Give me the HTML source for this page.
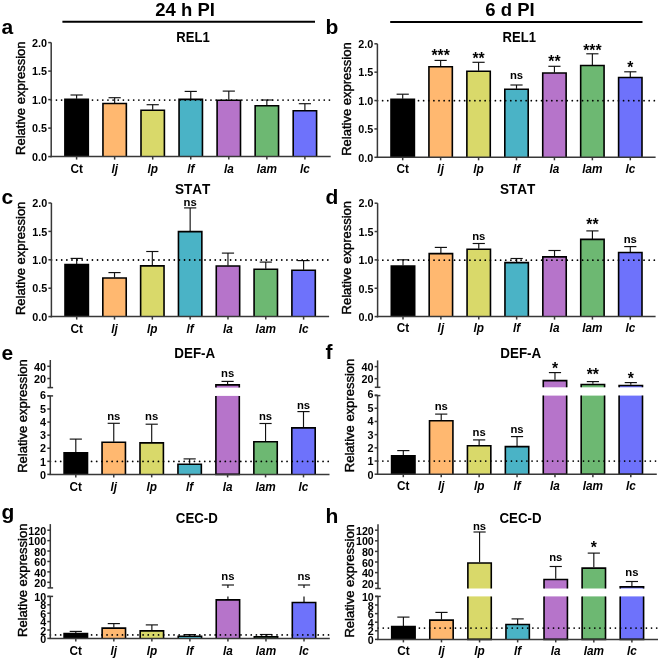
<!DOCTYPE html>
<html><head><meta charset="utf-8"><style>
html,body{margin:0;padding:0;background:#fff;}
svg{display:block;will-change:transform;}
text{font-family:"Liberation Sans", sans-serif;fill:#000;font-kerning:none;}
</style></head><body>
<svg width="660" height="659" viewBox="0 0 660 659">
<rect width="660" height="659" fill="#fff"/>
<line x1="76.60" y1="98.70" x2="76.60" y2="95.00" stroke="#111" stroke-width="1.15" />
<line x1="70.50" y1="95.00" x2="82.70" y2="95.00" stroke="#111" stroke-width="1.15" />
<rect x="64.90" y="99.20" width="23.40" height="57.40" fill="#000000"/>
<path d="M64.90,156.60L64.90,99.20L88.30,99.20L88.30,156.60" fill="none" stroke="#000" stroke-width="1.6"/>
<line x1="114.65" y1="103.00" x2="114.65" y2="97.70" stroke="#111" stroke-width="1.15" />
<line x1="108.55" y1="97.70" x2="120.75" y2="97.70" stroke="#111" stroke-width="1.15" />
<rect x="102.95" y="103.50" width="23.40" height="53.10" fill="#FFB870"/>
<path d="M102.95,156.60L102.95,103.50L126.35,103.50L126.35,156.60" fill="none" stroke="#000" stroke-width="1.6"/>
<line x1="152.70" y1="109.70" x2="152.70" y2="104.70" stroke="#111" stroke-width="1.15" />
<line x1="146.60" y1="104.70" x2="158.80" y2="104.70" stroke="#111" stroke-width="1.15" />
<rect x="141.00" y="110.20" width="23.40" height="46.40" fill="#D9D96A"/>
<path d="M141.00,156.60L141.00,110.20L164.40,110.20L164.40,156.60" fill="none" stroke="#000" stroke-width="1.6"/>
<line x1="190.75" y1="98.90" x2="190.75" y2="91.40" stroke="#111" stroke-width="1.15" />
<line x1="184.65" y1="91.40" x2="196.85" y2="91.40" stroke="#111" stroke-width="1.15" />
<rect x="179.05" y="99.40" width="23.40" height="57.20" fill="#4AB3C6"/>
<path d="M179.05,156.60L179.05,99.40L202.45,99.40L202.45,156.60" fill="none" stroke="#000" stroke-width="1.6"/>
<line x1="228.80" y1="99.80" x2="228.80" y2="91.10" stroke="#111" stroke-width="1.15" />
<line x1="222.70" y1="91.10" x2="234.90" y2="91.10" stroke="#111" stroke-width="1.15" />
<rect x="217.10" y="100.30" width="23.40" height="56.30" fill="#B674CA"/>
<path d="M217.10,156.60L217.10,100.30L240.50,100.30L240.50,156.60" fill="none" stroke="#000" stroke-width="1.6"/>
<line x1="266.85" y1="105.30" x2="266.85" y2="100.00" stroke="#111" stroke-width="1.15" />
<line x1="260.75" y1="100.00" x2="272.95" y2="100.00" stroke="#111" stroke-width="1.15" />
<rect x="255.15" y="105.80" width="23.40" height="50.80" fill="#6DB872"/>
<path d="M255.15,156.60L255.15,105.80L278.55,105.80L278.55,156.60" fill="none" stroke="#000" stroke-width="1.6"/>
<line x1="304.90" y1="110.20" x2="304.90" y2="103.70" stroke="#111" stroke-width="1.15" />
<line x1="298.80" y1="103.70" x2="311.00" y2="103.70" stroke="#111" stroke-width="1.15" />
<rect x="293.20" y="110.70" width="23.40" height="45.90" fill="#6E72FB"/>
<path d="M293.20,156.60L293.20,110.70L316.60,110.70L316.60,156.60" fill="none" stroke="#000" stroke-width="1.6"/>
<g fill="#000"><circle cx="51.30" cy="100.10" r="0.88"/><circle cx="56.45" cy="100.10" r="0.88"/><circle cx="61.60" cy="100.10" r="0.88"/><circle cx="66.75" cy="100.10" r="0.88"/><circle cx="71.90" cy="100.10" r="0.88"/><circle cx="77.05" cy="100.10" r="0.88"/><circle cx="82.20" cy="100.10" r="0.88"/><circle cx="87.35" cy="100.10" r="0.88"/><circle cx="92.50" cy="100.10" r="0.88"/><circle cx="97.65" cy="100.10" r="0.88"/><circle cx="102.80" cy="100.10" r="0.88"/><circle cx="107.95" cy="100.10" r="0.88"/><circle cx="113.10" cy="100.10" r="0.88"/><circle cx="118.25" cy="100.10" r="0.88"/><circle cx="123.40" cy="100.10" r="0.88"/><circle cx="128.55" cy="100.10" r="0.88"/><circle cx="133.70" cy="100.10" r="0.88"/><circle cx="138.85" cy="100.10" r="0.88"/><circle cx="144.00" cy="100.10" r="0.88"/><circle cx="149.15" cy="100.10" r="0.88"/><circle cx="154.30" cy="100.10" r="0.88"/><circle cx="159.45" cy="100.10" r="0.88"/><circle cx="164.60" cy="100.10" r="0.88"/><circle cx="169.75" cy="100.10" r="0.88"/><circle cx="174.90" cy="100.10" r="0.88"/><circle cx="180.05" cy="100.10" r="0.88"/><circle cx="185.20" cy="100.10" r="0.88"/><circle cx="190.35" cy="100.10" r="0.88"/><circle cx="195.50" cy="100.10" r="0.88"/><circle cx="200.66" cy="100.10" r="0.88"/><circle cx="205.81" cy="100.10" r="0.88"/><circle cx="210.96" cy="100.10" r="0.88"/><circle cx="216.11" cy="100.10" r="0.88"/><circle cx="221.26" cy="100.10" r="0.88"/><circle cx="226.41" cy="100.10" r="0.88"/><circle cx="231.56" cy="100.10" r="0.88"/><circle cx="236.71" cy="100.10" r="0.88"/><circle cx="241.86" cy="100.10" r="0.88"/><circle cx="247.01" cy="100.10" r="0.88"/><circle cx="252.16" cy="100.10" r="0.88"/><circle cx="257.31" cy="100.10" r="0.88"/><circle cx="262.46" cy="100.10" r="0.88"/><circle cx="267.61" cy="100.10" r="0.88"/><circle cx="272.76" cy="100.10" r="0.88"/><circle cx="277.91" cy="100.10" r="0.88"/><circle cx="283.06" cy="100.10" r="0.88"/><circle cx="288.21" cy="100.10" r="0.88"/><circle cx="293.36" cy="100.10" r="0.88"/><circle cx="298.51" cy="100.10" r="0.88"/><circle cx="303.66" cy="100.10" r="0.88"/><circle cx="308.81" cy="100.10" r="0.88"/><circle cx="313.96" cy="100.10" r="0.88"/><circle cx="319.11" cy="100.10" r="0.88"/><circle cx="324.26" cy="100.10" r="0.88"/><circle cx="329.41" cy="100.10" r="0.88"/></g>
<line x1="50.45" y1="156.60" x2="330.70" y2="156.60" stroke="#383838" stroke-width="1.5" />
<line x1="76.60" y1="156.60" x2="76.60" y2="159.60" stroke="#383838" stroke-width="1.5" />
<line x1="114.65" y1="156.60" x2="114.65" y2="159.60" stroke="#383838" stroke-width="1.5" />
<line x1="152.70" y1="156.60" x2="152.70" y2="159.60" stroke="#383838" stroke-width="1.5" />
<line x1="190.75" y1="156.60" x2="190.75" y2="159.60" stroke="#383838" stroke-width="1.5" />
<line x1="228.80" y1="156.60" x2="228.80" y2="159.60" stroke="#383838" stroke-width="1.5" />
<line x1="266.85" y1="156.60" x2="266.85" y2="159.60" stroke="#383838" stroke-width="1.5" />
<line x1="304.90" y1="156.60" x2="304.90" y2="159.60" stroke="#383838" stroke-width="1.5" />
<line x1="51.20" y1="42.60" x2="51.20" y2="157.35" stroke="#383838" stroke-width="1.5" />
<line x1="48.20" y1="42.60" x2="51.20" y2="42.60" stroke="#383838" stroke-width="1.5" />
<text x="47.00" y="46.89" font-size="10.8" font-weight="bold" font-style="normal" text-anchor="end" >2.0</text>
<line x1="48.20" y1="71.10" x2="51.20" y2="71.10" stroke="#383838" stroke-width="1.5" />
<text x="47.00" y="75.39" font-size="10.8" font-weight="bold" font-style="normal" text-anchor="end" >1.5</text>
<line x1="48.20" y1="99.60" x2="51.20" y2="99.60" stroke="#383838" stroke-width="1.5" />
<text x="47.00" y="103.89" font-size="10.8" font-weight="bold" font-style="normal" text-anchor="end" >1.0</text>
<line x1="48.20" y1="128.10" x2="51.20" y2="128.10" stroke="#383838" stroke-width="1.5" />
<text x="47.00" y="132.39" font-size="10.8" font-weight="bold" font-style="normal" text-anchor="end" >0.5</text>
<line x1="48.20" y1="156.60" x2="51.20" y2="156.60" stroke="#383838" stroke-width="1.5" />
<text x="47.00" y="160.89" font-size="10.8" font-weight="bold" font-style="normal" text-anchor="end" >0.0</text>
<text transform="translate(76.60,172.50) scale(1,1.09)" font-size="11.8" font-weight="bold" font-style="normal" text-anchor="middle" >Ct</text>
<text transform="translate(114.65,172.50) scale(1,1.09)" font-size="11.8" font-weight="bold" font-style="italic" text-anchor="middle" >lj</text>
<text transform="translate(152.70,172.50) scale(1,1.09)" font-size="11.8" font-weight="bold" font-style="italic" text-anchor="middle" >lp</text>
<text transform="translate(190.75,172.50) scale(1,1.09)" font-size="11.8" font-weight="bold" font-style="italic" text-anchor="middle" >lf</text>
<text transform="translate(228.80,172.50) scale(1,1.09)" font-size="11.8" font-weight="bold" font-style="italic" text-anchor="middle" >la</text>
<text transform="translate(266.85,172.50) scale(1,1.09)" font-size="11.8" font-weight="bold" font-style="italic" text-anchor="middle" >lam</text>
<text transform="translate(304.90,172.50) scale(1,1.09)" font-size="11.8" font-weight="bold" font-style="italic" text-anchor="middle" >lc</text>
<text x="1.50" y="34.00" font-size="21" font-weight="bold" font-style="normal" text-anchor="start" >a</text>
<text transform="translate(176.30,41.60) scale(1,1.08)" font-size="13.6" font-weight="bold" font-style="normal" text-anchor="start" textLength="33.4" lengthAdjust="spacingAndGlyphs">REL1</text>
<text transform="translate(24.70,154.90) rotate(-90)" font-size="13" font-weight="normal" stroke="#000" stroke-width="0.4">Relative expression</text>
<line x1="402.70" y1="98.80" x2="402.70" y2="94.20" stroke="#111" stroke-width="1.15" />
<line x1="396.60" y1="94.20" x2="408.80" y2="94.20" stroke="#111" stroke-width="1.15" />
<rect x="391.00" y="99.30" width="23.40" height="58.00" fill="#000000"/>
<path d="M391.00,157.30L391.00,99.30L414.40,99.30L414.40,157.30" fill="none" stroke="#000" stroke-width="1.6"/>
<line x1="440.63" y1="66.20" x2="440.63" y2="60.40" stroke="#111" stroke-width="1.15" />
<line x1="434.53" y1="60.40" x2="446.73" y2="60.40" stroke="#111" stroke-width="1.15" />
<rect x="428.93" y="66.70" width="23.40" height="90.60" fill="#FFB870"/>
<path d="M428.93,157.30L428.93,66.70L452.33,66.70L452.33,157.30" fill="none" stroke="#000" stroke-width="1.6"/>
<text x="440.63" y="61.46" font-size="15.7" font-weight="bold" font-style="normal" text-anchor="middle" >***</text>
<line x1="478.57" y1="70.80" x2="478.57" y2="62.30" stroke="#111" stroke-width="1.15" />
<line x1="472.47" y1="62.30" x2="484.67" y2="62.30" stroke="#111" stroke-width="1.15" />
<rect x="466.87" y="71.30" width="23.40" height="86.00" fill="#D9D96A"/>
<path d="M466.87,157.30L466.87,71.30L490.27,71.30L490.27,157.30" fill="none" stroke="#000" stroke-width="1.6"/>
<text x="478.57" y="63.66" font-size="15.7" font-weight="bold" font-style="normal" text-anchor="middle" >**</text>
<line x1="516.50" y1="88.80" x2="516.50" y2="85.00" stroke="#111" stroke-width="1.15" />
<line x1="510.40" y1="85.00" x2="522.60" y2="85.00" stroke="#111" stroke-width="1.15" />
<rect x="504.80" y="89.30" width="23.40" height="68.00" fill="#4AB3C6"/>
<path d="M504.80,157.30L504.80,89.30L528.20,89.30L528.20,157.30" fill="none" stroke="#000" stroke-width="1.6"/>
<text x="516.50" y="78.80" font-size="11.3" font-weight="bold" font-style="normal" text-anchor="middle" >ns</text>
<line x1="554.43" y1="72.50" x2="554.43" y2="66.30" stroke="#111" stroke-width="1.15" />
<line x1="548.33" y1="66.30" x2="560.53" y2="66.30" stroke="#111" stroke-width="1.15" />
<rect x="542.73" y="73.00" width="23.40" height="84.30" fill="#B674CA"/>
<path d="M542.73,157.30L542.73,73.00L566.13,73.00L566.13,157.30" fill="none" stroke="#000" stroke-width="1.6"/>
<text x="554.43" y="67.36" font-size="15.7" font-weight="bold" font-style="normal" text-anchor="middle" >**</text>
<line x1="592.37" y1="65.00" x2="592.37" y2="53.80" stroke="#111" stroke-width="1.15" />
<line x1="586.27" y1="53.80" x2="598.47" y2="53.80" stroke="#111" stroke-width="1.15" />
<rect x="580.67" y="65.50" width="23.40" height="91.80" fill="#6DB872"/>
<path d="M580.67,157.30L580.67,65.50L604.07,65.50L604.07,157.30" fill="none" stroke="#000" stroke-width="1.6"/>
<text x="592.37" y="55.86" font-size="15.7" font-weight="bold" font-style="normal" text-anchor="middle" >***</text>
<line x1="630.30" y1="77.00" x2="630.30" y2="71.80" stroke="#111" stroke-width="1.15" />
<line x1="624.20" y1="71.80" x2="636.40" y2="71.80" stroke="#111" stroke-width="1.15" />
<rect x="618.60" y="77.50" width="23.40" height="79.80" fill="#6E72FB"/>
<path d="M618.60,157.30L618.60,77.50L642.00,77.50L642.00,157.30" fill="none" stroke="#000" stroke-width="1.6"/>
<text x="630.30" y="72.86" font-size="15.7" font-weight="bold" font-style="normal" text-anchor="middle" >*</text>
<g fill="#000"><circle cx="377.50" cy="100.70" r="0.88"/><circle cx="382.63" cy="100.70" r="0.88"/><circle cx="387.75" cy="100.70" r="0.88"/><circle cx="392.88" cy="100.70" r="0.88"/><circle cx="398.00" cy="100.70" r="0.88"/><circle cx="403.13" cy="100.70" r="0.88"/><circle cx="408.26" cy="100.70" r="0.88"/><circle cx="413.38" cy="100.70" r="0.88"/><circle cx="418.51" cy="100.70" r="0.88"/><circle cx="423.64" cy="100.70" r="0.88"/><circle cx="428.76" cy="100.70" r="0.88"/><circle cx="433.89" cy="100.70" r="0.88"/><circle cx="439.01" cy="100.70" r="0.88"/><circle cx="444.14" cy="100.70" r="0.88"/><circle cx="449.27" cy="100.70" r="0.88"/><circle cx="454.39" cy="100.70" r="0.88"/><circle cx="459.52" cy="100.70" r="0.88"/><circle cx="464.65" cy="100.70" r="0.88"/><circle cx="469.77" cy="100.70" r="0.88"/><circle cx="474.90" cy="100.70" r="0.88"/><circle cx="480.02" cy="100.70" r="0.88"/><circle cx="485.15" cy="100.70" r="0.88"/><circle cx="490.28" cy="100.70" r="0.88"/><circle cx="495.40" cy="100.70" r="0.88"/><circle cx="500.53" cy="100.70" r="0.88"/><circle cx="505.66" cy="100.70" r="0.88"/><circle cx="510.78" cy="100.70" r="0.88"/><circle cx="515.91" cy="100.70" r="0.88"/><circle cx="521.03" cy="100.70" r="0.88"/><circle cx="526.16" cy="100.70" r="0.88"/><circle cx="531.29" cy="100.70" r="0.88"/><circle cx="536.41" cy="100.70" r="0.88"/><circle cx="541.54" cy="100.70" r="0.88"/><circle cx="546.67" cy="100.70" r="0.88"/><circle cx="551.79" cy="100.70" r="0.88"/><circle cx="556.92" cy="100.70" r="0.88"/><circle cx="562.04" cy="100.70" r="0.88"/><circle cx="567.17" cy="100.70" r="0.88"/><circle cx="572.30" cy="100.70" r="0.88"/><circle cx="577.42" cy="100.70" r="0.88"/><circle cx="582.55" cy="100.70" r="0.88"/><circle cx="587.68" cy="100.70" r="0.88"/><circle cx="592.80" cy="100.70" r="0.88"/><circle cx="597.93" cy="100.70" r="0.88"/><circle cx="603.05" cy="100.70" r="0.88"/><circle cx="608.18" cy="100.70" r="0.88"/><circle cx="613.31" cy="100.70" r="0.88"/><circle cx="618.43" cy="100.70" r="0.88"/><circle cx="623.56" cy="100.70" r="0.88"/><circle cx="628.68" cy="100.70" r="0.88"/><circle cx="633.81" cy="100.70" r="0.88"/><circle cx="638.94" cy="100.70" r="0.88"/><circle cx="644.06" cy="100.70" r="0.88"/><circle cx="649.19" cy="100.70" r="0.88"/><circle cx="654.32" cy="100.70" r="0.88"/></g>
<line x1="376.65" y1="157.30" x2="655.60" y2="157.30" stroke="#383838" stroke-width="1.5" />
<line x1="402.70" y1="157.30" x2="402.70" y2="160.30" stroke="#383838" stroke-width="1.5" />
<line x1="440.63" y1="157.30" x2="440.63" y2="160.30" stroke="#383838" stroke-width="1.5" />
<line x1="478.57" y1="157.30" x2="478.57" y2="160.30" stroke="#383838" stroke-width="1.5" />
<line x1="516.50" y1="157.30" x2="516.50" y2="160.30" stroke="#383838" stroke-width="1.5" />
<line x1="554.43" y1="157.30" x2="554.43" y2="160.30" stroke="#383838" stroke-width="1.5" />
<line x1="592.37" y1="157.30" x2="592.37" y2="160.30" stroke="#383838" stroke-width="1.5" />
<line x1="630.30" y1="157.30" x2="630.30" y2="160.30" stroke="#383838" stroke-width="1.5" />
<line x1="377.40" y1="43.80" x2="377.40" y2="158.05" stroke="#383838" stroke-width="1.5" />
<line x1="374.40" y1="43.80" x2="377.40" y2="43.80" stroke="#383838" stroke-width="1.5" />
<text x="373.20" y="48.09" font-size="10.8" font-weight="bold" font-style="normal" text-anchor="end" >2.0</text>
<line x1="374.40" y1="72.17" x2="377.40" y2="72.17" stroke="#383838" stroke-width="1.5" />
<text x="373.20" y="76.46" font-size="10.8" font-weight="bold" font-style="normal" text-anchor="end" >1.5</text>
<line x1="374.40" y1="100.55" x2="377.40" y2="100.55" stroke="#383838" stroke-width="1.5" />
<text x="373.20" y="104.84" font-size="10.8" font-weight="bold" font-style="normal" text-anchor="end" >1.0</text>
<line x1="374.40" y1="128.93" x2="377.40" y2="128.93" stroke="#383838" stroke-width="1.5" />
<text x="373.20" y="133.21" font-size="10.8" font-weight="bold" font-style="normal" text-anchor="end" >0.5</text>
<line x1="374.40" y1="157.30" x2="377.40" y2="157.30" stroke="#383838" stroke-width="1.5" />
<text x="373.20" y="161.59" font-size="10.8" font-weight="bold" font-style="normal" text-anchor="end" >0.0</text>
<text transform="translate(402.70,173.20) scale(1,1.09)" font-size="11.8" font-weight="bold" font-style="normal" text-anchor="middle" >Ct</text>
<text transform="translate(440.63,173.20) scale(1,1.09)" font-size="11.8" font-weight="bold" font-style="italic" text-anchor="middle" >lj</text>
<text transform="translate(478.57,173.20) scale(1,1.09)" font-size="11.8" font-weight="bold" font-style="italic" text-anchor="middle" >lp</text>
<text transform="translate(516.50,173.20) scale(1,1.09)" font-size="11.8" font-weight="bold" font-style="italic" text-anchor="middle" >lf</text>
<text transform="translate(554.43,173.20) scale(1,1.09)" font-size="11.8" font-weight="bold" font-style="italic" text-anchor="middle" >la</text>
<text transform="translate(592.37,173.20) scale(1,1.09)" font-size="11.8" font-weight="bold" font-style="italic" text-anchor="middle" >lam</text>
<text transform="translate(630.30,173.20) scale(1,1.09)" font-size="11.8" font-weight="bold" font-style="italic" text-anchor="middle" >lc</text>
<text x="325.50" y="34.40" font-size="21" font-weight="bold" font-style="normal" text-anchor="start" >b</text>
<text transform="translate(502.60,41.60) scale(1,1.08)" font-size="13.6" font-weight="bold" font-style="normal" text-anchor="start" textLength="33.4" lengthAdjust="spacingAndGlyphs">REL1</text>
<text transform="translate(351.10,155.80) rotate(-90)" font-size="13" font-weight="normal" stroke="#000" stroke-width="0.4">Relative expression</text>
<line x1="76.70" y1="264.10" x2="76.70" y2="258.40" stroke="#111" stroke-width="1.15" />
<line x1="70.60" y1="258.40" x2="82.80" y2="258.40" stroke="#111" stroke-width="1.15" />
<rect x="65.00" y="264.60" width="23.40" height="52.00" fill="#000000"/>
<path d="M65.00,316.60L65.00,264.60L88.40,264.60L88.40,316.60" fill="none" stroke="#000" stroke-width="1.6"/>
<line x1="114.52" y1="277.50" x2="114.52" y2="272.60" stroke="#111" stroke-width="1.15" />
<line x1="108.42" y1="272.60" x2="120.62" y2="272.60" stroke="#111" stroke-width="1.15" />
<rect x="102.82" y="278.00" width="23.40" height="38.60" fill="#FFB870"/>
<path d="M102.82,316.60L102.82,278.00L126.22,278.00L126.22,316.60" fill="none" stroke="#000" stroke-width="1.6"/>
<line x1="152.33" y1="265.40" x2="152.33" y2="251.50" stroke="#111" stroke-width="1.15" />
<line x1="146.23" y1="251.50" x2="158.43" y2="251.50" stroke="#111" stroke-width="1.15" />
<rect x="140.63" y="265.90" width="23.40" height="50.70" fill="#D9D96A"/>
<path d="M140.63,316.60L140.63,265.90L164.03,265.90L164.03,316.60" fill="none" stroke="#000" stroke-width="1.6"/>
<line x1="190.15" y1="231.10" x2="190.15" y2="207.90" stroke="#111" stroke-width="1.15" />
<line x1="184.05" y1="207.90" x2="196.25" y2="207.90" stroke="#111" stroke-width="1.15" />
<rect x="178.45" y="231.60" width="23.40" height="85.00" fill="#4AB3C6"/>
<path d="M178.45,316.60L178.45,231.60L201.85,231.60L201.85,316.60" fill="none" stroke="#000" stroke-width="1.6"/>
<text x="190.15" y="206.10" font-size="11.3" font-weight="bold" font-style="normal" text-anchor="middle" >ns</text>
<line x1="227.97" y1="265.50" x2="227.97" y2="253.10" stroke="#111" stroke-width="1.15" />
<line x1="221.87" y1="253.10" x2="234.07" y2="253.10" stroke="#111" stroke-width="1.15" />
<rect x="216.27" y="266.00" width="23.40" height="50.60" fill="#B674CA"/>
<path d="M216.27,316.60L216.27,266.00L239.67,266.00L239.67,316.60" fill="none" stroke="#000" stroke-width="1.6"/>
<line x1="265.78" y1="268.80" x2="265.78" y2="262.10" stroke="#111" stroke-width="1.15" />
<line x1="259.68" y1="262.10" x2="271.88" y2="262.10" stroke="#111" stroke-width="1.15" />
<rect x="254.08" y="269.30" width="23.40" height="47.30" fill="#6DB872"/>
<path d="M254.08,316.60L254.08,269.30L277.48,269.30L277.48,316.60" fill="none" stroke="#000" stroke-width="1.6"/>
<line x1="303.60" y1="269.80" x2="303.60" y2="260.60" stroke="#111" stroke-width="1.15" />
<line x1="297.50" y1="260.60" x2="309.70" y2="260.60" stroke="#111" stroke-width="1.15" />
<rect x="291.90" y="270.30" width="23.40" height="46.30" fill="#6E72FB"/>
<path d="M291.90,316.60L291.90,270.30L315.30,270.30L315.30,316.60" fill="none" stroke="#000" stroke-width="1.6"/>
<g fill="#000"><circle cx="51.50" cy="260.00" r="0.88"/><circle cx="56.62" cy="260.00" r="0.88"/><circle cx="61.73" cy="260.00" r="0.88"/><circle cx="66.85" cy="260.00" r="0.88"/><circle cx="71.97" cy="260.00" r="0.88"/><circle cx="77.09" cy="260.00" r="0.88"/><circle cx="82.20" cy="260.00" r="0.88"/><circle cx="87.32" cy="260.00" r="0.88"/><circle cx="92.44" cy="260.00" r="0.88"/><circle cx="97.55" cy="260.00" r="0.88"/><circle cx="102.67" cy="260.00" r="0.88"/><circle cx="107.79" cy="260.00" r="0.88"/><circle cx="112.90" cy="260.00" r="0.88"/><circle cx="118.02" cy="260.00" r="0.88"/><circle cx="123.14" cy="260.00" r="0.88"/><circle cx="128.26" cy="260.00" r="0.88"/><circle cx="133.37" cy="260.00" r="0.88"/><circle cx="138.49" cy="260.00" r="0.88"/><circle cx="143.61" cy="260.00" r="0.88"/><circle cx="148.72" cy="260.00" r="0.88"/><circle cx="153.84" cy="260.00" r="0.88"/><circle cx="158.96" cy="260.00" r="0.88"/><circle cx="164.07" cy="260.00" r="0.88"/><circle cx="169.19" cy="260.00" r="0.88"/><circle cx="174.31" cy="260.00" r="0.88"/><circle cx="179.43" cy="260.00" r="0.88"/><circle cx="184.54" cy="260.00" r="0.88"/><circle cx="189.66" cy="260.00" r="0.88"/><circle cx="194.78" cy="260.00" r="0.88"/><circle cx="199.89" cy="260.00" r="0.88"/><circle cx="205.01" cy="260.00" r="0.88"/><circle cx="210.13" cy="260.00" r="0.88"/><circle cx="215.24" cy="260.00" r="0.88"/><circle cx="220.36" cy="260.00" r="0.88"/><circle cx="225.48" cy="260.00" r="0.88"/><circle cx="230.60" cy="260.00" r="0.88"/><circle cx="235.71" cy="260.00" r="0.88"/><circle cx="240.83" cy="260.00" r="0.88"/><circle cx="245.95" cy="260.00" r="0.88"/><circle cx="251.06" cy="260.00" r="0.88"/><circle cx="256.18" cy="260.00" r="0.88"/><circle cx="261.30" cy="260.00" r="0.88"/><circle cx="266.41" cy="260.00" r="0.88"/><circle cx="271.53" cy="260.00" r="0.88"/><circle cx="276.65" cy="260.00" r="0.88"/><circle cx="281.77" cy="260.00" r="0.88"/><circle cx="286.88" cy="260.00" r="0.88"/><circle cx="292.00" cy="260.00" r="0.88"/><circle cx="297.12" cy="260.00" r="0.88"/><circle cx="302.23" cy="260.00" r="0.88"/><circle cx="307.35" cy="260.00" r="0.88"/><circle cx="312.47" cy="260.00" r="0.88"/><circle cx="317.58" cy="260.00" r="0.88"/><circle cx="322.70" cy="260.00" r="0.88"/><circle cx="327.82" cy="260.00" r="0.88"/></g>
<line x1="50.65" y1="316.60" x2="329.10" y2="316.60" stroke="#383838" stroke-width="1.5" />
<line x1="76.70" y1="316.60" x2="76.70" y2="319.60" stroke="#383838" stroke-width="1.5" />
<line x1="114.52" y1="316.60" x2="114.52" y2="319.60" stroke="#383838" stroke-width="1.5" />
<line x1="152.33" y1="316.60" x2="152.33" y2="319.60" stroke="#383838" stroke-width="1.5" />
<line x1="190.15" y1="316.60" x2="190.15" y2="319.60" stroke="#383838" stroke-width="1.5" />
<line x1="227.97" y1="316.60" x2="227.97" y2="319.60" stroke="#383838" stroke-width="1.5" />
<line x1="265.78" y1="316.60" x2="265.78" y2="319.60" stroke="#383838" stroke-width="1.5" />
<line x1="303.60" y1="316.60" x2="303.60" y2="319.60" stroke="#383838" stroke-width="1.5" />
<line x1="51.40" y1="203.00" x2="51.40" y2="317.35" stroke="#383838" stroke-width="1.5" />
<line x1="48.40" y1="203.00" x2="51.40" y2="203.00" stroke="#383838" stroke-width="1.5" />
<text x="47.20" y="207.29" font-size="10.8" font-weight="bold" font-style="normal" text-anchor="end" >2.0</text>
<line x1="48.40" y1="231.40" x2="51.40" y2="231.40" stroke="#383838" stroke-width="1.5" />
<text x="47.20" y="235.69" font-size="10.8" font-weight="bold" font-style="normal" text-anchor="end" >1.5</text>
<line x1="48.40" y1="259.80" x2="51.40" y2="259.80" stroke="#383838" stroke-width="1.5" />
<text x="47.20" y="264.09" font-size="10.8" font-weight="bold" font-style="normal" text-anchor="end" >1.0</text>
<line x1="48.40" y1="288.20" x2="51.40" y2="288.20" stroke="#383838" stroke-width="1.5" />
<text x="47.20" y="292.49" font-size="10.8" font-weight="bold" font-style="normal" text-anchor="end" >0.5</text>
<line x1="48.40" y1="316.60" x2="51.40" y2="316.60" stroke="#383838" stroke-width="1.5" />
<text x="47.20" y="320.89" font-size="10.8" font-weight="bold" font-style="normal" text-anchor="end" >0.0</text>
<text transform="translate(76.70,332.50) scale(1,1.09)" font-size="11.8" font-weight="bold" font-style="normal" text-anchor="middle" >Ct</text>
<text transform="translate(114.52,332.50) scale(1,1.09)" font-size="11.8" font-weight="bold" font-style="italic" text-anchor="middle" >lj</text>
<text transform="translate(152.33,332.50) scale(1,1.09)" font-size="11.8" font-weight="bold" font-style="italic" text-anchor="middle" >lp</text>
<text transform="translate(190.15,332.50) scale(1,1.09)" font-size="11.8" font-weight="bold" font-style="italic" text-anchor="middle" >lf</text>
<text transform="translate(227.97,332.50) scale(1,1.09)" font-size="11.8" font-weight="bold" font-style="italic" text-anchor="middle" >la</text>
<text transform="translate(265.78,332.50) scale(1,1.09)" font-size="11.8" font-weight="bold" font-style="italic" text-anchor="middle" >lam</text>
<text transform="translate(303.60,332.50) scale(1,1.09)" font-size="11.8" font-weight="bold" font-style="italic" text-anchor="middle" >lc</text>
<text x="1.50" y="204.00" font-size="21" font-weight="bold" font-style="normal" text-anchor="start" >c</text>
<text transform="translate(175.00,193.90) scale(1,1.08)" font-size="13.6" font-weight="bold" font-style="normal" text-anchor="start" textLength="35.4" lengthAdjust="spacingAndGlyphs">STAT</text>
<text transform="translate(24.70,315.10) rotate(-90)" font-size="13" font-weight="normal" stroke="#000" stroke-width="0.4">Relative expression</text>
<line x1="403.00" y1="265.50" x2="403.00" y2="259.80" stroke="#111" stroke-width="1.15" />
<line x1="396.90" y1="259.80" x2="409.10" y2="259.80" stroke="#111" stroke-width="1.15" />
<rect x="391.30" y="266.00" width="23.40" height="50.60" fill="#000000"/>
<path d="M391.30,316.60L391.30,266.00L414.70,266.00L414.70,316.60" fill="none" stroke="#000" stroke-width="1.6"/>
<line x1="440.88" y1="253.10" x2="440.88" y2="247.40" stroke="#111" stroke-width="1.15" />
<line x1="434.78" y1="247.40" x2="446.98" y2="247.40" stroke="#111" stroke-width="1.15" />
<rect x="429.18" y="253.60" width="23.40" height="63.00" fill="#FFB870"/>
<path d="M429.18,316.60L429.18,253.60L452.58,253.60L452.58,316.60" fill="none" stroke="#000" stroke-width="1.6"/>
<line x1="478.77" y1="248.70" x2="478.77" y2="243.50" stroke="#111" stroke-width="1.15" />
<line x1="472.67" y1="243.50" x2="484.87" y2="243.50" stroke="#111" stroke-width="1.15" />
<rect x="467.07" y="249.20" width="23.40" height="67.40" fill="#D9D96A"/>
<path d="M467.07,316.60L467.07,249.20L490.47,249.20L490.47,316.60" fill="none" stroke="#000" stroke-width="1.6"/>
<text x="478.77" y="240.20" font-size="11.3" font-weight="bold" font-style="normal" text-anchor="middle" >ns</text>
<line x1="516.65" y1="262.10" x2="516.65" y2="258.50" stroke="#111" stroke-width="1.15" />
<line x1="510.55" y1="258.50" x2="522.75" y2="258.50" stroke="#111" stroke-width="1.15" />
<rect x="504.95" y="262.60" width="23.40" height="54.00" fill="#4AB3C6"/>
<path d="M504.95,316.60L504.95,262.60L528.35,262.60L528.35,316.60" fill="none" stroke="#000" stroke-width="1.6"/>
<line x1="554.53" y1="256.40" x2="554.53" y2="250.50" stroke="#111" stroke-width="1.15" />
<line x1="548.43" y1="250.50" x2="560.63" y2="250.50" stroke="#111" stroke-width="1.15" />
<rect x="542.83" y="256.90" width="23.40" height="59.70" fill="#B674CA"/>
<path d="M542.83,316.60L542.83,256.90L566.23,256.90L566.23,316.60" fill="none" stroke="#000" stroke-width="1.6"/>
<line x1="592.42" y1="238.90" x2="592.42" y2="230.90" stroke="#111" stroke-width="1.15" />
<line x1="586.32" y1="230.90" x2="598.52" y2="230.90" stroke="#111" stroke-width="1.15" />
<rect x="580.72" y="239.40" width="23.40" height="77.20" fill="#6DB872"/>
<path d="M580.72,316.60L580.72,239.40L604.12,239.40L604.12,316.60" fill="none" stroke="#000" stroke-width="1.6"/>
<text x="592.42" y="230.06" font-size="15.7" font-weight="bold" font-style="normal" text-anchor="middle" >**</text>
<line x1="630.30" y1="252.00" x2="630.30" y2="246.60" stroke="#111" stroke-width="1.15" />
<line x1="624.20" y1="246.60" x2="636.40" y2="246.60" stroke="#111" stroke-width="1.15" />
<rect x="618.60" y="252.50" width="23.40" height="64.10" fill="#6E72FB"/>
<path d="M618.60,316.60L618.60,252.50L642.00,252.50L642.00,316.60" fill="none" stroke="#000" stroke-width="1.6"/>
<text x="630.30" y="243.00" font-size="11.3" font-weight="bold" font-style="normal" text-anchor="middle" >ns</text>
<g fill="#000"><circle cx="377.70" cy="260.20" r="0.88"/><circle cx="382.82" cy="260.20" r="0.88"/><circle cx="387.95" cy="260.20" r="0.88"/><circle cx="393.07" cy="260.20" r="0.88"/><circle cx="398.19" cy="260.20" r="0.88"/><circle cx="403.31" cy="260.20" r="0.88"/><circle cx="408.44" cy="260.20" r="0.88"/><circle cx="413.56" cy="260.20" r="0.88"/><circle cx="418.68" cy="260.20" r="0.88"/><circle cx="423.80" cy="260.20" r="0.88"/><circle cx="428.93" cy="260.20" r="0.88"/><circle cx="434.05" cy="260.20" r="0.88"/><circle cx="439.17" cy="260.20" r="0.88"/><circle cx="444.29" cy="260.20" r="0.88"/><circle cx="449.42" cy="260.20" r="0.88"/><circle cx="454.54" cy="260.20" r="0.88"/><circle cx="459.66" cy="260.20" r="0.88"/><circle cx="464.78" cy="260.20" r="0.88"/><circle cx="469.91" cy="260.20" r="0.88"/><circle cx="475.03" cy="260.20" r="0.88"/><circle cx="480.15" cy="260.20" r="0.88"/><circle cx="485.27" cy="260.20" r="0.88"/><circle cx="490.40" cy="260.20" r="0.88"/><circle cx="495.52" cy="260.20" r="0.88"/><circle cx="500.64" cy="260.20" r="0.88"/><circle cx="505.76" cy="260.20" r="0.88"/><circle cx="510.89" cy="260.20" r="0.88"/><circle cx="516.01" cy="260.20" r="0.88"/><circle cx="521.13" cy="260.20" r="0.88"/><circle cx="526.25" cy="260.20" r="0.88"/><circle cx="531.38" cy="260.20" r="0.88"/><circle cx="536.50" cy="260.20" r="0.88"/><circle cx="541.62" cy="260.20" r="0.88"/><circle cx="546.74" cy="260.20" r="0.88"/><circle cx="551.87" cy="260.20" r="0.88"/><circle cx="556.99" cy="260.20" r="0.88"/><circle cx="562.11" cy="260.20" r="0.88"/><circle cx="567.23" cy="260.20" r="0.88"/><circle cx="572.36" cy="260.20" r="0.88"/><circle cx="577.48" cy="260.20" r="0.88"/><circle cx="582.60" cy="260.20" r="0.88"/><circle cx="587.72" cy="260.20" r="0.88"/><circle cx="592.85" cy="260.20" r="0.88"/><circle cx="597.97" cy="260.20" r="0.88"/><circle cx="603.09" cy="260.20" r="0.88"/><circle cx="608.21" cy="260.20" r="0.88"/><circle cx="613.34" cy="260.20" r="0.88"/><circle cx="618.46" cy="260.20" r="0.88"/><circle cx="623.58" cy="260.20" r="0.88"/><circle cx="628.70" cy="260.20" r="0.88"/><circle cx="633.83" cy="260.20" r="0.88"/><circle cx="638.95" cy="260.20" r="0.88"/><circle cx="644.07" cy="260.20" r="0.88"/><circle cx="649.19" cy="260.20" r="0.88"/><circle cx="654.32" cy="260.20" r="0.88"/></g>
<line x1="376.85" y1="316.60" x2="655.60" y2="316.60" stroke="#383838" stroke-width="1.5" />
<line x1="403.00" y1="316.60" x2="403.00" y2="319.60" stroke="#383838" stroke-width="1.5" />
<line x1="440.88" y1="316.60" x2="440.88" y2="319.60" stroke="#383838" stroke-width="1.5" />
<line x1="478.77" y1="316.60" x2="478.77" y2="319.60" stroke="#383838" stroke-width="1.5" />
<line x1="516.65" y1="316.60" x2="516.65" y2="319.60" stroke="#383838" stroke-width="1.5" />
<line x1="554.53" y1="316.60" x2="554.53" y2="319.60" stroke="#383838" stroke-width="1.5" />
<line x1="592.42" y1="316.60" x2="592.42" y2="319.60" stroke="#383838" stroke-width="1.5" />
<line x1="630.30" y1="316.60" x2="630.30" y2="319.60" stroke="#383838" stroke-width="1.5" />
<line x1="377.60" y1="203.20" x2="377.60" y2="317.35" stroke="#383838" stroke-width="1.5" />
<line x1="374.60" y1="203.20" x2="377.60" y2="203.20" stroke="#383838" stroke-width="1.5" />
<text x="373.40" y="207.49" font-size="10.8" font-weight="bold" font-style="normal" text-anchor="end" >2.0</text>
<line x1="374.60" y1="231.55" x2="377.60" y2="231.55" stroke="#383838" stroke-width="1.5" />
<text x="373.40" y="235.84" font-size="10.8" font-weight="bold" font-style="normal" text-anchor="end" >1.5</text>
<line x1="374.60" y1="259.90" x2="377.60" y2="259.90" stroke="#383838" stroke-width="1.5" />
<text x="373.40" y="264.19" font-size="10.8" font-weight="bold" font-style="normal" text-anchor="end" >1.0</text>
<line x1="374.60" y1="288.25" x2="377.60" y2="288.25" stroke="#383838" stroke-width="1.5" />
<text x="373.40" y="292.54" font-size="10.8" font-weight="bold" font-style="normal" text-anchor="end" >0.5</text>
<line x1="374.60" y1="316.60" x2="377.60" y2="316.60" stroke="#383838" stroke-width="1.5" />
<text x="373.40" y="320.89" font-size="10.8" font-weight="bold" font-style="normal" text-anchor="end" >0.0</text>
<text transform="translate(403.00,331.90) scale(1,1.09)" font-size="11.8" font-weight="bold" font-style="normal" text-anchor="middle" >Ct</text>
<text transform="translate(440.88,331.90) scale(1,1.09)" font-size="11.8" font-weight="bold" font-style="italic" text-anchor="middle" >lj</text>
<text transform="translate(478.77,331.90) scale(1,1.09)" font-size="11.8" font-weight="bold" font-style="italic" text-anchor="middle" >lp</text>
<text transform="translate(516.65,331.90) scale(1,1.09)" font-size="11.8" font-weight="bold" font-style="italic" text-anchor="middle" >lf</text>
<text transform="translate(554.53,331.90) scale(1,1.09)" font-size="11.8" font-weight="bold" font-style="italic" text-anchor="middle" >la</text>
<text transform="translate(592.42,331.90) scale(1,1.09)" font-size="11.8" font-weight="bold" font-style="italic" text-anchor="middle" >lam</text>
<text transform="translate(630.30,331.90) scale(1,1.09)" font-size="11.8" font-weight="bold" font-style="italic" text-anchor="middle" >lc</text>
<text x="325.50" y="203.90" font-size="21" font-weight="bold" font-style="normal" text-anchor="start" >d</text>
<text transform="translate(500.00,193.90) scale(1,1.08)" font-size="13.6" font-weight="bold" font-style="normal" text-anchor="start" textLength="35.4" lengthAdjust="spacingAndGlyphs">STAT</text>
<text transform="translate(351.10,314.40) rotate(-90)" font-size="13" font-weight="normal" stroke="#000" stroke-width="0.4">Relative expression</text>
<line x1="75.80" y1="452.20" x2="75.80" y2="439.10" stroke="#111" stroke-width="1.15" />
<line x1="69.70" y1="439.10" x2="81.90" y2="439.10" stroke="#111" stroke-width="1.15" />
<rect x="64.10" y="452.70" width="23.40" height="21.70" fill="#000000"/>
<path d="M64.10,474.40L64.10,452.70L87.50,452.70L87.50,474.40" fill="none" stroke="#000" stroke-width="1.6"/>
<line x1="113.75" y1="441.80" x2="113.75" y2="423.30" stroke="#111" stroke-width="1.15" />
<line x1="107.65" y1="423.30" x2="119.85" y2="423.30" stroke="#111" stroke-width="1.15" />
<rect x="102.05" y="442.30" width="23.40" height="32.10" fill="#FFB870"/>
<path d="M102.05,474.40L102.05,442.30L125.45,442.30L125.45,474.40" fill="none" stroke="#000" stroke-width="1.6"/>
<text x="113.75" y="420.00" font-size="11.3" font-weight="bold" font-style="normal" text-anchor="middle" >ns</text>
<line x1="151.70" y1="442.40" x2="151.70" y2="424.20" stroke="#111" stroke-width="1.15" />
<line x1="145.60" y1="424.20" x2="157.80" y2="424.20" stroke="#111" stroke-width="1.15" />
<rect x="140.00" y="442.90" width="23.40" height="31.50" fill="#D9D96A"/>
<path d="M140.00,474.40L140.00,442.90L163.40,442.90L163.40,474.40" fill="none" stroke="#000" stroke-width="1.6"/>
<text x="151.70" y="419.60" font-size="11.3" font-weight="bold" font-style="normal" text-anchor="middle" >ns</text>
<line x1="189.65" y1="463.80" x2="189.65" y2="458.90" stroke="#111" stroke-width="1.15" />
<line x1="183.55" y1="458.90" x2="195.75" y2="458.90" stroke="#111" stroke-width="1.15" />
<rect x="177.95" y="464.30" width="23.40" height="10.10" fill="#4AB3C6"/>
<path d="M177.95,474.40L177.95,464.30L201.35,464.30L201.35,474.40" fill="none" stroke="#000" stroke-width="1.6"/>
<line x1="227.60" y1="384.10" x2="227.60" y2="381.40" stroke="#111" stroke-width="1.15" />
<line x1="221.50" y1="381.40" x2="233.70" y2="381.40" stroke="#111" stroke-width="1.15" />
<rect x="215.90" y="384.90" width="23.40" height="2.70" fill="#B674CA"/>
<path d="M215.90,387.60L215.90,384.90L239.30,384.90L239.30,387.60" fill="none" stroke="#000" stroke-width="1.6" stroke-linejoin="miter" stroke-linecap="butt"/>
<rect x="215.90" y="395.90" width="23.40" height="78.50" fill="#B674CA"/>
<path d="M215.90,395.90L215.90,474.40L239.30,474.40L239.30,395.90" fill="none" stroke="#000" stroke-width="1.6" stroke-linecap="butt"/>
<text x="227.60" y="376.80" font-size="11.3" font-weight="bold" font-style="normal" text-anchor="middle" >ns</text>
<line x1="265.55" y1="441.20" x2="265.55" y2="423.50" stroke="#111" stroke-width="1.15" />
<line x1="259.45" y1="423.50" x2="271.65" y2="423.50" stroke="#111" stroke-width="1.15" />
<rect x="253.85" y="441.70" width="23.40" height="32.70" fill="#6DB872"/>
<path d="M253.85,474.40L253.85,441.70L277.25,441.70L277.25,474.40" fill="none" stroke="#000" stroke-width="1.6"/>
<text x="265.55" y="420.10" font-size="11.3" font-weight="bold" font-style="normal" text-anchor="middle" >ns</text>
<line x1="303.50" y1="427.40" x2="303.50" y2="411.60" stroke="#111" stroke-width="1.15" />
<line x1="297.40" y1="411.60" x2="309.60" y2="411.60" stroke="#111" stroke-width="1.15" />
<rect x="291.80" y="427.90" width="23.40" height="46.50" fill="#6E72FB"/>
<path d="M291.80,474.40L291.80,427.90L315.20,427.90L315.20,474.40" fill="none" stroke="#000" stroke-width="1.6"/>
<text x="303.50" y="409.00" font-size="11.3" font-weight="bold" font-style="normal" text-anchor="middle" >ns</text>
<g fill="#000"><circle cx="50.40" cy="461.40" r="0.88"/><circle cx="55.54" cy="461.40" r="0.88"/><circle cx="60.69" cy="461.40" r="0.88"/><circle cx="65.83" cy="461.40" r="0.88"/><circle cx="70.98" cy="461.40" r="0.88"/><circle cx="76.12" cy="461.40" r="0.88"/><circle cx="81.27" cy="461.40" r="0.88"/><circle cx="86.41" cy="461.40" r="0.88"/><circle cx="91.56" cy="461.40" r="0.88"/><circle cx="96.70" cy="461.40" r="0.88"/><circle cx="101.85" cy="461.40" r="0.88"/><circle cx="106.99" cy="461.40" r="0.88"/><circle cx="112.14" cy="461.40" r="0.88"/><circle cx="117.28" cy="461.40" r="0.88"/><circle cx="122.43" cy="461.40" r="0.88"/><circle cx="127.57" cy="461.40" r="0.88"/><circle cx="132.71" cy="461.40" r="0.88"/><circle cx="137.86" cy="461.40" r="0.88"/><circle cx="143.00" cy="461.40" r="0.88"/><circle cx="148.15" cy="461.40" r="0.88"/><circle cx="153.29" cy="461.40" r="0.88"/><circle cx="158.44" cy="461.40" r="0.88"/><circle cx="163.58" cy="461.40" r="0.88"/><circle cx="168.73" cy="461.40" r="0.88"/><circle cx="173.87" cy="461.40" r="0.88"/><circle cx="179.02" cy="461.40" r="0.88"/><circle cx="184.16" cy="461.40" r="0.88"/><circle cx="189.31" cy="461.40" r="0.88"/><circle cx="194.45" cy="461.40" r="0.88"/><circle cx="199.59" cy="461.40" r="0.88"/><circle cx="204.74" cy="461.40" r="0.88"/><circle cx="209.88" cy="461.40" r="0.88"/><circle cx="215.03" cy="461.40" r="0.88"/><circle cx="220.17" cy="461.40" r="0.88"/><circle cx="225.32" cy="461.40" r="0.88"/><circle cx="230.46" cy="461.40" r="0.88"/><circle cx="235.61" cy="461.40" r="0.88"/><circle cx="240.75" cy="461.40" r="0.88"/><circle cx="245.90" cy="461.40" r="0.88"/><circle cx="251.04" cy="461.40" r="0.88"/><circle cx="256.19" cy="461.40" r="0.88"/><circle cx="261.33" cy="461.40" r="0.88"/><circle cx="266.48" cy="461.40" r="0.88"/><circle cx="271.62" cy="461.40" r="0.88"/><circle cx="276.76" cy="461.40" r="0.88"/><circle cx="281.91" cy="461.40" r="0.88"/><circle cx="287.05" cy="461.40" r="0.88"/><circle cx="292.20" cy="461.40" r="0.88"/><circle cx="297.34" cy="461.40" r="0.88"/><circle cx="302.49" cy="461.40" r="0.88"/><circle cx="307.63" cy="461.40" r="0.88"/><circle cx="312.78" cy="461.40" r="0.88"/><circle cx="317.92" cy="461.40" r="0.88"/><circle cx="323.07" cy="461.40" r="0.88"/><circle cx="328.21" cy="461.40" r="0.88"/></g>
<line x1="49.55" y1="474.40" x2="329.50" y2="474.40" stroke="#383838" stroke-width="1.5" />
<line x1="75.80" y1="474.40" x2="75.80" y2="477.40" stroke="#383838" stroke-width="1.5" />
<line x1="113.75" y1="474.40" x2="113.75" y2="477.40" stroke="#383838" stroke-width="1.5" />
<line x1="151.70" y1="474.40" x2="151.70" y2="477.40" stroke="#383838" stroke-width="1.5" />
<line x1="189.65" y1="474.40" x2="189.65" y2="477.40" stroke="#383838" stroke-width="1.5" />
<line x1="227.60" y1="474.40" x2="227.60" y2="477.40" stroke="#383838" stroke-width="1.5" />
<line x1="265.55" y1="474.40" x2="265.55" y2="477.40" stroke="#383838" stroke-width="1.5" />
<line x1="303.50" y1="474.40" x2="303.50" y2="477.40" stroke="#383838" stroke-width="1.5" />
<line x1="50.30" y1="360.00" x2="50.30" y2="387.60" stroke="#383838" stroke-width="1.5" />
<line x1="47.50" y1="387.60" x2="53.10" y2="387.60" stroke="#383838" stroke-width="1.5" />
<line x1="50.30" y1="395.90" x2="50.30" y2="474.40" stroke="#383838" stroke-width="1.5" />
<line x1="47.50" y1="395.90" x2="53.10" y2="395.90" stroke="#383838" stroke-width="1.5" />
<line x1="47.30" y1="366.30" x2="50.30" y2="366.30" stroke="#383838" stroke-width="1.5" />
<text x="46.10" y="370.99" font-size="10.8" font-weight="bold" font-style="normal" text-anchor="end" >40</text>
<line x1="47.30" y1="378.50" x2="50.30" y2="378.50" stroke="#383838" stroke-width="1.5" />
<text x="46.10" y="383.19" font-size="10.8" font-weight="bold" font-style="normal" text-anchor="end" >20</text>
<line x1="47.30" y1="395.90" x2="50.30" y2="395.90" stroke="#383838" stroke-width="1.5" />
<text x="46.10" y="399.29" font-size="10.8" font-weight="bold" font-style="normal" text-anchor="end" >6</text>
<line x1="47.30" y1="408.98" x2="50.30" y2="408.98" stroke="#383838" stroke-width="1.5" />
<text x="46.10" y="412.59" font-size="10.8" font-weight="bold" font-style="normal" text-anchor="end" >5</text>
<line x1="47.30" y1="422.07" x2="50.30" y2="422.07" stroke="#383838" stroke-width="1.5" />
<text x="46.10" y="425.89" font-size="10.8" font-weight="bold" font-style="normal" text-anchor="end" >4</text>
<line x1="47.30" y1="435.15" x2="50.30" y2="435.15" stroke="#383838" stroke-width="1.5" />
<text x="46.10" y="439.19" font-size="10.8" font-weight="bold" font-style="normal" text-anchor="end" >3</text>
<line x1="47.30" y1="448.23" x2="50.30" y2="448.23" stroke="#383838" stroke-width="1.5" />
<text x="46.10" y="452.49" font-size="10.8" font-weight="bold" font-style="normal" text-anchor="end" >2</text>
<line x1="47.30" y1="461.32" x2="50.30" y2="461.32" stroke="#383838" stroke-width="1.5" />
<text x="46.10" y="465.79" font-size="10.8" font-weight="bold" font-style="normal" text-anchor="end" >1</text>
<line x1="47.30" y1="474.40" x2="50.30" y2="474.40" stroke="#383838" stroke-width="1.5" />
<text x="46.10" y="479.09" font-size="10.8" font-weight="bold" font-style="normal" text-anchor="end" >0</text>
<text transform="translate(75.80,491.00) scale(1,1.09)" font-size="11.8" font-weight="bold" font-style="normal" text-anchor="middle" >Ct</text>
<text transform="translate(113.75,491.00) scale(1,1.09)" font-size="11.8" font-weight="bold" font-style="italic" text-anchor="middle" >lj</text>
<text transform="translate(151.70,491.00) scale(1,1.09)" font-size="11.8" font-weight="bold" font-style="italic" text-anchor="middle" >lp</text>
<text transform="translate(189.65,491.00) scale(1,1.09)" font-size="11.8" font-weight="bold" font-style="italic" text-anchor="middle" >lf</text>
<text transform="translate(227.60,491.00) scale(1,1.09)" font-size="11.8" font-weight="bold" font-style="italic" text-anchor="middle" >la</text>
<text transform="translate(265.55,491.00) scale(1,1.09)" font-size="11.8" font-weight="bold" font-style="italic" text-anchor="middle" >lam</text>
<text transform="translate(303.50,491.00) scale(1,1.09)" font-size="11.8" font-weight="bold" font-style="italic" text-anchor="middle" >lc</text>
<text x="1.50" y="359.50" font-size="21" font-weight="bold" font-style="normal" text-anchor="start" >e</text>
<text transform="translate(174.30,358.40) scale(1,1.08)" font-size="13.6" font-weight="bold" font-style="normal" text-anchor="start" textLength="40.9" lengthAdjust="spacingAndGlyphs">DEF-A</text>
<text transform="translate(27.00,472.80) rotate(-90)" font-size="13" font-weight="normal" stroke="#000" stroke-width="0.4">Relative expression</text>
<line x1="403.30" y1="455.40" x2="403.30" y2="450.60" stroke="#111" stroke-width="1.15" />
<line x1="397.20" y1="450.60" x2="409.40" y2="450.60" stroke="#111" stroke-width="1.15" />
<rect x="391.60" y="455.90" width="23.40" height="18.30" fill="#000000"/>
<path d="M391.60,474.20L391.60,455.90L415.00,455.90L415.00,474.20" fill="none" stroke="#000" stroke-width="1.6"/>
<line x1="441.22" y1="420.30" x2="441.22" y2="414.10" stroke="#111" stroke-width="1.15" />
<line x1="435.12" y1="414.10" x2="447.32" y2="414.10" stroke="#111" stroke-width="1.15" />
<rect x="429.52" y="420.80" width="23.40" height="53.40" fill="#FFB870"/>
<path d="M429.52,474.20L429.52,420.80L452.92,420.80L452.92,474.20" fill="none" stroke="#000" stroke-width="1.6"/>
<text x="441.22" y="410.00" font-size="11.3" font-weight="bold" font-style="normal" text-anchor="middle" >ns</text>
<line x1="479.13" y1="445.30" x2="479.13" y2="439.90" stroke="#111" stroke-width="1.15" />
<line x1="473.03" y1="439.90" x2="485.23" y2="439.90" stroke="#111" stroke-width="1.15" />
<rect x="467.43" y="445.80" width="23.40" height="28.40" fill="#D9D96A"/>
<path d="M467.43,474.20L467.43,445.80L490.83,445.80L490.83,474.20" fill="none" stroke="#000" stroke-width="1.6"/>
<text x="479.13" y="435.80" font-size="11.3" font-weight="bold" font-style="normal" text-anchor="middle" >ns</text>
<line x1="517.05" y1="446.10" x2="517.05" y2="436.60" stroke="#111" stroke-width="1.15" />
<line x1="510.95" y1="436.60" x2="523.15" y2="436.60" stroke="#111" stroke-width="1.15" />
<rect x="505.35" y="446.60" width="23.40" height="27.60" fill="#4AB3C6"/>
<path d="M505.35,474.20L505.35,446.60L528.75,446.60L528.75,474.20" fill="none" stroke="#000" stroke-width="1.6"/>
<text x="517.05" y="432.70" font-size="11.3" font-weight="bold" font-style="normal" text-anchor="middle" >ns</text>
<line x1="554.97" y1="379.80" x2="554.97" y2="372.60" stroke="#111" stroke-width="1.15" />
<line x1="548.87" y1="372.60" x2="561.07" y2="372.60" stroke="#111" stroke-width="1.15" />
<rect x="543.27" y="380.60" width="23.40" height="6.70" fill="#B674CA"/>
<path d="M543.27,387.30L543.27,380.60L566.67,380.60L566.67,387.30" fill="none" stroke="#000" stroke-width="1.6" stroke-linejoin="miter" stroke-linecap="butt"/>
<rect x="543.27" y="395.60" width="23.40" height="78.60" fill="#B674CA"/>
<path d="M543.27,395.60L543.27,474.20L566.67,474.20L566.67,395.60" fill="none" stroke="#000" stroke-width="1.6" stroke-linecap="butt"/>
<text x="554.97" y="374.06" font-size="15.7" font-weight="bold" font-style="normal" text-anchor="middle" >*</text>
<line x1="592.88" y1="383.70" x2="592.88" y2="381.60" stroke="#111" stroke-width="1.15" />
<line x1="586.78" y1="381.60" x2="598.98" y2="381.60" stroke="#111" stroke-width="1.15" />
<rect x="581.18" y="384.50" width="23.40" height="2.80" fill="#6DB872"/>
<path d="M581.18,387.30L581.18,384.50L604.58,384.50L604.58,387.30" fill="none" stroke="#000" stroke-width="1.6" stroke-linejoin="miter" stroke-linecap="butt"/>
<rect x="581.18" y="395.60" width="23.40" height="78.60" fill="#6DB872"/>
<path d="M581.18,395.60L581.18,474.20L604.58,474.20L604.58,395.60" fill="none" stroke="#000" stroke-width="1.6" stroke-linecap="butt"/>
<text x="592.88" y="379.76" font-size="15.7" font-weight="bold" font-style="normal" text-anchor="middle" >**</text>
<line x1="630.80" y1="384.70" x2="630.80" y2="382.60" stroke="#111" stroke-width="1.15" />
<line x1="624.70" y1="382.60" x2="636.90" y2="382.60" stroke="#111" stroke-width="1.15" />
<rect x="619.10" y="385.50" width="23.40" height="1.80" fill="#6E72FB"/>
<path d="M619.10,387.30L619.10,385.50L642.50,385.50L642.50,387.30" fill="none" stroke="#000" stroke-width="1.6" stroke-linejoin="miter" stroke-linecap="butt"/>
<rect x="619.10" y="395.60" width="23.40" height="78.60" fill="#6E72FB"/>
<path d="M619.10,395.60L619.10,474.20L642.50,474.20L642.50,395.60" fill="none" stroke="#000" stroke-width="1.6" stroke-linecap="butt"/>
<text x="630.80" y="384.36" font-size="15.7" font-weight="bold" font-style="normal" text-anchor="middle" >*</text>
<g fill="#000"><circle cx="377.70" cy="461.10" r="0.88"/><circle cx="382.84" cy="461.10" r="0.88"/><circle cx="387.99" cy="461.10" r="0.88"/><circle cx="393.13" cy="461.10" r="0.88"/><circle cx="398.28" cy="461.10" r="0.88"/><circle cx="403.42" cy="461.10" r="0.88"/><circle cx="408.57" cy="461.10" r="0.88"/><circle cx="413.71" cy="461.10" r="0.88"/><circle cx="418.86" cy="461.10" r="0.88"/><circle cx="424.00" cy="461.10" r="0.88"/><circle cx="429.15" cy="461.10" r="0.88"/><circle cx="434.29" cy="461.10" r="0.88"/><circle cx="439.44" cy="461.10" r="0.88"/><circle cx="444.58" cy="461.10" r="0.88"/><circle cx="449.73" cy="461.10" r="0.88"/><circle cx="454.87" cy="461.10" r="0.88"/><circle cx="460.01" cy="461.10" r="0.88"/><circle cx="465.16" cy="461.10" r="0.88"/><circle cx="470.30" cy="461.10" r="0.88"/><circle cx="475.45" cy="461.10" r="0.88"/><circle cx="480.59" cy="461.10" r="0.88"/><circle cx="485.74" cy="461.10" r="0.88"/><circle cx="490.88" cy="461.10" r="0.88"/><circle cx="496.03" cy="461.10" r="0.88"/><circle cx="501.17" cy="461.10" r="0.88"/><circle cx="506.32" cy="461.10" r="0.88"/><circle cx="511.46" cy="461.10" r="0.88"/><circle cx="516.61" cy="461.10" r="0.88"/><circle cx="521.75" cy="461.10" r="0.88"/><circle cx="526.89" cy="461.10" r="0.88"/><circle cx="532.04" cy="461.10" r="0.88"/><circle cx="537.18" cy="461.10" r="0.88"/><circle cx="542.33" cy="461.10" r="0.88"/><circle cx="547.47" cy="461.10" r="0.88"/><circle cx="552.62" cy="461.10" r="0.88"/><circle cx="557.76" cy="461.10" r="0.88"/><circle cx="562.91" cy="461.10" r="0.88"/><circle cx="568.05" cy="461.10" r="0.88"/><circle cx="573.20" cy="461.10" r="0.88"/><circle cx="578.34" cy="461.10" r="0.88"/><circle cx="583.49" cy="461.10" r="0.88"/><circle cx="588.63" cy="461.10" r="0.88"/><circle cx="593.78" cy="461.10" r="0.88"/><circle cx="598.92" cy="461.10" r="0.88"/><circle cx="604.06" cy="461.10" r="0.88"/><circle cx="609.21" cy="461.10" r="0.88"/><circle cx="614.35" cy="461.10" r="0.88"/><circle cx="619.50" cy="461.10" r="0.88"/><circle cx="624.64" cy="461.10" r="0.88"/><circle cx="629.79" cy="461.10" r="0.88"/><circle cx="634.93" cy="461.10" r="0.88"/><circle cx="640.08" cy="461.10" r="0.88"/><circle cx="645.22" cy="461.10" r="0.88"/><circle cx="650.37" cy="461.10" r="0.88"/><circle cx="655.51" cy="461.10" r="0.88"/></g>
<line x1="376.85" y1="474.20" x2="656.80" y2="474.20" stroke="#383838" stroke-width="1.5" />
<line x1="403.30" y1="474.20" x2="403.30" y2="477.20" stroke="#383838" stroke-width="1.5" />
<line x1="441.22" y1="474.20" x2="441.22" y2="477.20" stroke="#383838" stroke-width="1.5" />
<line x1="479.13" y1="474.20" x2="479.13" y2="477.20" stroke="#383838" stroke-width="1.5" />
<line x1="517.05" y1="474.20" x2="517.05" y2="477.20" stroke="#383838" stroke-width="1.5" />
<line x1="554.97" y1="474.20" x2="554.97" y2="477.20" stroke="#383838" stroke-width="1.5" />
<line x1="592.88" y1="474.20" x2="592.88" y2="477.20" stroke="#383838" stroke-width="1.5" />
<line x1="630.80" y1="474.20" x2="630.80" y2="477.20" stroke="#383838" stroke-width="1.5" />
<line x1="377.60" y1="360.40" x2="377.60" y2="387.30" stroke="#383838" stroke-width="1.5" />
<line x1="374.80" y1="387.30" x2="380.40" y2="387.30" stroke="#383838" stroke-width="1.5" />
<line x1="377.60" y1="395.60" x2="377.60" y2="474.20" stroke="#383838" stroke-width="1.5" />
<line x1="374.80" y1="395.60" x2="380.40" y2="395.60" stroke="#383838" stroke-width="1.5" />
<line x1="374.60" y1="366.60" x2="377.60" y2="366.60" stroke="#383838" stroke-width="1.5" />
<text x="373.40" y="371.29" font-size="10.8" font-weight="bold" font-style="normal" text-anchor="end" >40</text>
<line x1="374.60" y1="378.70" x2="377.60" y2="378.70" stroke="#383838" stroke-width="1.5" />
<text x="373.40" y="383.39" font-size="10.8" font-weight="bold" font-style="normal" text-anchor="end" >20</text>
<line x1="374.60" y1="395.10" x2="377.60" y2="395.10" stroke="#383838" stroke-width="1.5" />
<text x="373.40" y="398.49" font-size="10.8" font-weight="bold" font-style="normal" text-anchor="end" >6</text>
<line x1="374.60" y1="408.28" x2="377.60" y2="408.28" stroke="#383838" stroke-width="1.5" />
<text x="373.40" y="411.89" font-size="10.8" font-weight="bold" font-style="normal" text-anchor="end" >5</text>
<line x1="374.60" y1="421.47" x2="377.60" y2="421.47" stroke="#383838" stroke-width="1.5" />
<text x="373.40" y="425.29" font-size="10.8" font-weight="bold" font-style="normal" text-anchor="end" >4</text>
<line x1="374.60" y1="434.65" x2="377.60" y2="434.65" stroke="#383838" stroke-width="1.5" />
<text x="373.40" y="438.69" font-size="10.8" font-weight="bold" font-style="normal" text-anchor="end" >3</text>
<line x1="374.60" y1="447.83" x2="377.60" y2="447.83" stroke="#383838" stroke-width="1.5" />
<text x="373.40" y="452.09" font-size="10.8" font-weight="bold" font-style="normal" text-anchor="end" >2</text>
<line x1="374.60" y1="461.02" x2="377.60" y2="461.02" stroke="#383838" stroke-width="1.5" />
<text x="373.40" y="465.49" font-size="10.8" font-weight="bold" font-style="normal" text-anchor="end" >1</text>
<line x1="374.60" y1="474.20" x2="377.60" y2="474.20" stroke="#383838" stroke-width="1.5" />
<text x="373.40" y="478.89" font-size="10.8" font-weight="bold" font-style="normal" text-anchor="end" >0</text>
<text transform="translate(403.30,489.80) scale(1,1.09)" font-size="11.8" font-weight="bold" font-style="normal" text-anchor="middle" >Ct</text>
<text transform="translate(441.22,489.80) scale(1,1.09)" font-size="11.8" font-weight="bold" font-style="italic" text-anchor="middle" >lj</text>
<text transform="translate(479.13,489.80) scale(1,1.09)" font-size="11.8" font-weight="bold" font-style="italic" text-anchor="middle" >lp</text>
<text transform="translate(517.05,489.80) scale(1,1.09)" font-size="11.8" font-weight="bold" font-style="italic" text-anchor="middle" >lf</text>
<text transform="translate(554.97,489.80) scale(1,1.09)" font-size="11.8" font-weight="bold" font-style="italic" text-anchor="middle" >la</text>
<text transform="translate(592.88,489.80) scale(1,1.09)" font-size="11.8" font-weight="bold" font-style="italic" text-anchor="middle" >lam</text>
<text transform="translate(630.80,489.80) scale(1,1.09)" font-size="11.8" font-weight="bold" font-style="italic" text-anchor="middle" >lc</text>
<text x="325.50" y="358.80" font-size="21" font-weight="bold" font-style="normal" text-anchor="start" >f</text>
<text transform="translate(500.30,358.40) scale(1,1.08)" font-size="13.6" font-weight="bold" font-style="normal" text-anchor="start" textLength="40.9" lengthAdjust="spacingAndGlyphs">DEF-A</text>
<text transform="translate(354.20,472.20) rotate(-90)" font-size="13" font-weight="normal" stroke="#000" stroke-width="0.4">Relative expression</text>
<line x1="75.80" y1="633.00" x2="75.80" y2="631.40" stroke="#111" stroke-width="1.15" />
<line x1="69.70" y1="631.40" x2="81.90" y2="631.40" stroke="#111" stroke-width="1.15" />
<rect x="64.10" y="633.50" width="23.40" height="4.90" fill="#000000"/>
<path d="M64.10,638.40L64.10,633.50L87.50,633.50L87.50,638.40" fill="none" stroke="#000" stroke-width="1.6"/>
<line x1="113.83" y1="627.60" x2="113.83" y2="623.60" stroke="#111" stroke-width="1.15" />
<line x1="107.73" y1="623.60" x2="119.93" y2="623.60" stroke="#111" stroke-width="1.15" />
<rect x="102.13" y="628.10" width="23.40" height="10.30" fill="#FFB870"/>
<path d="M102.13,638.40L102.13,628.10L125.53,628.10L125.53,638.40" fill="none" stroke="#000" stroke-width="1.6"/>
<line x1="151.87" y1="630.40" x2="151.87" y2="624.90" stroke="#111" stroke-width="1.15" />
<line x1="145.77" y1="624.90" x2="157.97" y2="624.90" stroke="#111" stroke-width="1.15" />
<rect x="140.17" y="630.90" width="23.40" height="7.50" fill="#D9D96A"/>
<path d="M140.17,638.40L140.17,630.90L163.57,630.90L163.57,638.40" fill="none" stroke="#000" stroke-width="1.6"/>
<line x1="189.90" y1="635.70" x2="189.90" y2="634.60" stroke="#111" stroke-width="1.15" />
<line x1="183.80" y1="634.60" x2="196.00" y2="634.60" stroke="#111" stroke-width="1.15" />
<rect x="178.20" y="636.20" width="23.40" height="2.20" fill="#4AB3C6"/>
<path d="M178.20,638.40L178.20,636.20L201.60,636.20L201.60,638.40" fill="none" stroke="#000" stroke-width="1.6"/>
<line x1="227.93" y1="599.40" x2="227.93" y2="596.40" stroke="#000" stroke-width="1.15" />
<line x1="227.93" y1="587.90" x2="227.93" y2="585.00" stroke="#000" stroke-width="1.15" />
<line x1="221.83" y1="585.00" x2="234.03" y2="585.00" stroke="#111" stroke-width="1.15" />
<rect x="216.23" y="599.90" width="23.40" height="38.50" fill="#B674CA"/>
<path d="M216.23,638.40L216.23,599.90L239.63,599.90L239.63,638.40" fill="none" stroke="#000" stroke-width="1.6"/>
<text x="227.93" y="580.10" font-size="11.3" font-weight="bold" font-style="normal" text-anchor="middle" >ns</text>
<line x1="265.97" y1="636.40" x2="265.97" y2="634.50" stroke="#111" stroke-width="1.15" />
<line x1="259.87" y1="634.50" x2="272.07" y2="634.50" stroke="#111" stroke-width="1.15" />
<rect x="254.27" y="636.90" width="23.40" height="1.50" fill="#6DB872"/>
<path d="M254.27,638.40L254.27,636.90L277.67,636.90L277.67,638.40" fill="none" stroke="#000" stroke-width="1.6"/>
<line x1="304.00" y1="602.00" x2="304.00" y2="596.40" stroke="#000" stroke-width="1.15" />
<line x1="304.00" y1="587.90" x2="304.00" y2="585.00" stroke="#000" stroke-width="1.15" />
<line x1="297.90" y1="585.00" x2="310.10" y2="585.00" stroke="#111" stroke-width="1.15" />
<rect x="292.30" y="602.50" width="23.40" height="35.90" fill="#6E72FB"/>
<path d="M292.30,638.40L292.30,602.50L315.70,602.50L315.70,638.40" fill="none" stroke="#000" stroke-width="1.6"/>
<text x="304.00" y="580.10" font-size="11.3" font-weight="bold" font-style="normal" text-anchor="middle" >ns</text>
<g fill="#000"><circle cx="50.40" cy="634.90" r="0.88"/><circle cx="55.55" cy="634.90" r="0.88"/><circle cx="60.70" cy="634.90" r="0.88"/><circle cx="65.85" cy="634.90" r="0.88"/><circle cx="71.00" cy="634.90" r="0.88"/><circle cx="76.15" cy="634.90" r="0.88"/><circle cx="81.30" cy="634.90" r="0.88"/><circle cx="86.45" cy="634.90" r="0.88"/><circle cx="91.60" cy="634.90" r="0.88"/><circle cx="96.75" cy="634.90" r="0.88"/><circle cx="101.90" cy="634.90" r="0.88"/><circle cx="107.05" cy="634.90" r="0.88"/><circle cx="112.20" cy="634.90" r="0.88"/><circle cx="117.35" cy="634.90" r="0.88"/><circle cx="122.50" cy="634.90" r="0.88"/><circle cx="127.65" cy="634.90" r="0.88"/><circle cx="132.80" cy="634.90" r="0.88"/><circle cx="137.95" cy="634.90" r="0.88"/><circle cx="143.10" cy="634.90" r="0.88"/><circle cx="148.25" cy="634.90" r="0.88"/><circle cx="153.40" cy="634.90" r="0.88"/><circle cx="158.55" cy="634.90" r="0.88"/><circle cx="163.70" cy="634.90" r="0.88"/><circle cx="168.85" cy="634.90" r="0.88"/><circle cx="174.00" cy="634.90" r="0.88"/><circle cx="179.15" cy="634.90" r="0.88"/><circle cx="184.30" cy="634.90" r="0.88"/><circle cx="189.45" cy="634.90" r="0.88"/><circle cx="194.60" cy="634.90" r="0.88"/><circle cx="199.76" cy="634.90" r="0.88"/><circle cx="204.91" cy="634.90" r="0.88"/><circle cx="210.06" cy="634.90" r="0.88"/><circle cx="215.21" cy="634.90" r="0.88"/><circle cx="220.36" cy="634.90" r="0.88"/><circle cx="225.51" cy="634.90" r="0.88"/><circle cx="230.66" cy="634.90" r="0.88"/><circle cx="235.81" cy="634.90" r="0.88"/><circle cx="240.96" cy="634.90" r="0.88"/><circle cx="246.11" cy="634.90" r="0.88"/><circle cx="251.26" cy="634.90" r="0.88"/><circle cx="256.41" cy="634.90" r="0.88"/><circle cx="261.56" cy="634.90" r="0.88"/><circle cx="266.71" cy="634.90" r="0.88"/><circle cx="271.86" cy="634.90" r="0.88"/><circle cx="277.01" cy="634.90" r="0.88"/><circle cx="282.16" cy="634.90" r="0.88"/><circle cx="287.31" cy="634.90" r="0.88"/><circle cx="292.46" cy="634.90" r="0.88"/><circle cx="297.61" cy="634.90" r="0.88"/><circle cx="302.76" cy="634.90" r="0.88"/><circle cx="307.91" cy="634.90" r="0.88"/><circle cx="313.06" cy="634.90" r="0.88"/><circle cx="318.21" cy="634.90" r="0.88"/><circle cx="323.36" cy="634.90" r="0.88"/><circle cx="328.51" cy="634.90" r="0.88"/></g>
<line x1="49.55" y1="638.40" x2="329.80" y2="638.40" stroke="#383838" stroke-width="1.5" />
<line x1="75.80" y1="638.40" x2="75.80" y2="641.40" stroke="#383838" stroke-width="1.5" />
<line x1="113.83" y1="638.40" x2="113.83" y2="641.40" stroke="#383838" stroke-width="1.5" />
<line x1="151.87" y1="638.40" x2="151.87" y2="641.40" stroke="#383838" stroke-width="1.5" />
<line x1="189.90" y1="638.40" x2="189.90" y2="641.40" stroke="#383838" stroke-width="1.5" />
<line x1="227.93" y1="638.40" x2="227.93" y2="641.40" stroke="#383838" stroke-width="1.5" />
<line x1="265.97" y1="638.40" x2="265.97" y2="641.40" stroke="#383838" stroke-width="1.5" />
<line x1="304.00" y1="638.40" x2="304.00" y2="641.40" stroke="#383838" stroke-width="1.5" />
<line x1="50.30" y1="524.10" x2="50.30" y2="587.90" stroke="#383838" stroke-width="1.5" />
<line x1="47.50" y1="587.90" x2="53.10" y2="587.90" stroke="#383838" stroke-width="1.5" />
<line x1="50.30" y1="596.40" x2="50.30" y2="638.40" stroke="#383838" stroke-width="1.5" />
<line x1="47.50" y1="596.40" x2="53.10" y2="596.40" stroke="#383838" stroke-width="1.5" />
<line x1="47.30" y1="530.20" x2="50.30" y2="530.20" stroke="#383838" stroke-width="1.5" />
<text x="46.10" y="534.85" font-size="10.7" font-weight="bold" font-style="normal" text-anchor="end" >120</text>
<line x1="47.30" y1="540.62" x2="50.30" y2="540.62" stroke="#383838" stroke-width="1.5" />
<text x="46.10" y="545.27" font-size="10.7" font-weight="bold" font-style="normal" text-anchor="end" >100</text>
<line x1="47.30" y1="551.04" x2="50.30" y2="551.04" stroke="#383838" stroke-width="1.5" />
<text x="46.10" y="555.69" font-size="10.7" font-weight="bold" font-style="normal" text-anchor="end" >80</text>
<line x1="47.30" y1="561.46" x2="50.30" y2="561.46" stroke="#383838" stroke-width="1.5" />
<text x="46.10" y="566.11" font-size="10.7" font-weight="bold" font-style="normal" text-anchor="end" >60</text>
<line x1="47.30" y1="571.88" x2="50.30" y2="571.88" stroke="#383838" stroke-width="1.5" />
<text x="46.10" y="576.53" font-size="10.7" font-weight="bold" font-style="normal" text-anchor="end" >40</text>
<line x1="47.30" y1="582.30" x2="50.30" y2="582.30" stroke="#383838" stroke-width="1.5" />
<text x="46.10" y="586.95" font-size="10.7" font-weight="bold" font-style="normal" text-anchor="end" >20</text>
<line x1="47.30" y1="596.40" x2="50.30" y2="596.40" stroke="#383838" stroke-width="1.5" />
<text x="46.10" y="601.05" font-size="10.7" font-weight="bold" font-style="normal" text-anchor="end" >10</text>
<line x1="47.30" y1="604.80" x2="50.30" y2="604.80" stroke="#383838" stroke-width="1.5" />
<text x="46.10" y="609.45" font-size="10.7" font-weight="bold" font-style="normal" text-anchor="end" >8</text>
<line x1="47.30" y1="613.20" x2="50.30" y2="613.20" stroke="#383838" stroke-width="1.5" />
<text x="46.10" y="617.85" font-size="10.7" font-weight="bold" font-style="normal" text-anchor="end" >6</text>
<line x1="47.30" y1="621.60" x2="50.30" y2="621.60" stroke="#383838" stroke-width="1.5" />
<text x="46.10" y="626.25" font-size="10.7" font-weight="bold" font-style="normal" text-anchor="end" >4</text>
<line x1="47.30" y1="630.00" x2="50.30" y2="630.00" stroke="#383838" stroke-width="1.5" />
<text x="46.10" y="634.65" font-size="10.7" font-weight="bold" font-style="normal" text-anchor="end" >2</text>
<line x1="47.30" y1="638.40" x2="50.30" y2="638.40" stroke="#383838" stroke-width="1.5" />
<text x="46.10" y="643.05" font-size="10.7" font-weight="bold" font-style="normal" text-anchor="end" >0</text>
<text transform="translate(75.80,655.10) scale(1,1.09)" font-size="11.8" font-weight="bold" font-style="normal" text-anchor="middle" >Ct</text>
<text transform="translate(113.83,655.10) scale(1,1.09)" font-size="11.8" font-weight="bold" font-style="italic" text-anchor="middle" >lj</text>
<text transform="translate(151.87,655.10) scale(1,1.09)" font-size="11.8" font-weight="bold" font-style="italic" text-anchor="middle" >lp</text>
<text transform="translate(189.90,655.10) scale(1,1.09)" font-size="11.8" font-weight="bold" font-style="italic" text-anchor="middle" >lf</text>
<text transform="translate(227.93,655.10) scale(1,1.09)" font-size="11.8" font-weight="bold" font-style="italic" text-anchor="middle" >la</text>
<text transform="translate(265.97,655.10) scale(1,1.09)" font-size="11.8" font-weight="bold" font-style="italic" text-anchor="middle" >lam</text>
<text transform="translate(304.00,655.10) scale(1,1.09)" font-size="11.8" font-weight="bold" font-style="italic" text-anchor="middle" >lc</text>
<text x="1.50" y="519.00" font-size="21" font-weight="bold" font-style="normal" text-anchor="start" >g</text>
<text transform="translate(175.80,523.00) scale(1,1.08)" font-size="13.6" font-weight="bold" font-style="normal" text-anchor="start" textLength="42.0" lengthAdjust="spacingAndGlyphs">CEC-D</text>
<text transform="translate(27.10,637.00) rotate(-90)" font-size="13" font-weight="normal" stroke="#000" stroke-width="0.4">Relative expression</text>
<line x1="403.40" y1="626.10" x2="403.40" y2="617.10" stroke="#111" stroke-width="1.15" />
<line x1="397.30" y1="617.10" x2="409.50" y2="617.10" stroke="#111" stroke-width="1.15" />
<rect x="391.70" y="626.60" width="23.40" height="12.80" fill="#000000"/>
<path d="M391.70,639.40L391.70,626.60L415.10,626.60L415.10,639.40" fill="none" stroke="#000" stroke-width="1.6"/>
<line x1="441.48" y1="619.60" x2="441.48" y2="612.40" stroke="#111" stroke-width="1.15" />
<line x1="435.38" y1="612.40" x2="447.58" y2="612.40" stroke="#111" stroke-width="1.15" />
<rect x="429.78" y="620.10" width="23.40" height="19.30" fill="#FFB870"/>
<path d="M429.78,639.40L429.78,620.10L453.18,620.10L453.18,639.40" fill="none" stroke="#000" stroke-width="1.6"/>
<line x1="479.57" y1="562.20" x2="479.57" y2="532.00" stroke="#111" stroke-width="1.15" />
<line x1="473.47" y1="532.00" x2="485.67" y2="532.00" stroke="#111" stroke-width="1.15" />
<rect x="467.87" y="563.00" width="23.40" height="25.50" fill="#D9D96A"/>
<path d="M467.87,588.50L467.87,563.00L491.27,563.00L491.27,588.50" fill="none" stroke="#000" stroke-width="1.6" stroke-linejoin="miter" stroke-linecap="butt"/>
<rect x="467.87" y="596.40" width="23.40" height="43.00" fill="#D9D96A"/>
<path d="M467.87,596.40L467.87,639.40L491.27,639.40L491.27,596.40" fill="none" stroke="#000" stroke-width="1.6" stroke-linecap="butt"/>
<text x="479.57" y="530.00" font-size="11.3" font-weight="bold" font-style="normal" text-anchor="middle" >ns</text>
<line x1="517.65" y1="624.00" x2="517.65" y2="618.90" stroke="#111" stroke-width="1.15" />
<line x1="511.55" y1="618.90" x2="523.75" y2="618.90" stroke="#111" stroke-width="1.15" />
<rect x="505.95" y="624.50" width="23.40" height="14.90" fill="#4AB3C6"/>
<path d="M505.95,639.40L505.95,624.50L529.35,624.50L529.35,639.40" fill="none" stroke="#000" stroke-width="1.6"/>
<line x1="555.73" y1="578.70" x2="555.73" y2="566.50" stroke="#111" stroke-width="1.15" />
<line x1="549.63" y1="566.50" x2="561.83" y2="566.50" stroke="#111" stroke-width="1.15" />
<rect x="544.03" y="579.50" width="23.40" height="9.00" fill="#B674CA"/>
<path d="M544.03,588.50L544.03,579.50L567.43,579.50L567.43,588.50" fill="none" stroke="#000" stroke-width="1.6" stroke-linejoin="miter" stroke-linecap="butt"/>
<rect x="544.03" y="596.40" width="23.40" height="43.00" fill="#B674CA"/>
<path d="M544.03,596.40L544.03,639.40L567.43,639.40L567.43,596.40" fill="none" stroke="#000" stroke-width="1.6" stroke-linecap="butt"/>
<text x="555.73" y="560.90" font-size="11.3" font-weight="bold" font-style="normal" text-anchor="middle" >ns</text>
<line x1="593.82" y1="567.30" x2="593.82" y2="553.10" stroke="#111" stroke-width="1.15" />
<line x1="587.72" y1="553.10" x2="599.92" y2="553.10" stroke="#111" stroke-width="1.15" />
<rect x="582.12" y="568.10" width="23.40" height="20.40" fill="#6DB872"/>
<path d="M582.12,588.50L582.12,568.10L605.52,568.10L605.52,588.50" fill="none" stroke="#000" stroke-width="1.6" stroke-linejoin="miter" stroke-linecap="butt"/>
<rect x="582.12" y="596.40" width="23.40" height="43.00" fill="#6DB872"/>
<path d="M582.12,596.40L582.12,639.40L605.52,639.40L605.52,596.40" fill="none" stroke="#000" stroke-width="1.6" stroke-linecap="butt"/>
<text x="593.82" y="552.56" font-size="15.7" font-weight="bold" font-style="normal" text-anchor="middle" >*</text>
<line x1="631.90" y1="586.10" x2="631.90" y2="581.50" stroke="#111" stroke-width="1.15" />
<line x1="625.80" y1="581.50" x2="638.00" y2="581.50" stroke="#111" stroke-width="1.15" />
<rect x="620.20" y="586.90" width="23.40" height="1.60" fill="#6E72FB"/>
<path d="M620.20,588.50L620.20,586.90L643.60,586.90L643.60,588.50" fill="none" stroke="#000" stroke-width="1.6" stroke-linejoin="miter" stroke-linecap="butt"/>
<rect x="620.20" y="596.40" width="23.40" height="43.00" fill="#6E72FB"/>
<path d="M620.20,596.40L620.20,639.40L643.60,639.40L643.60,596.40" fill="none" stroke="#000" stroke-width="1.6" stroke-linecap="butt"/>
<text x="631.90" y="576.30" font-size="11.3" font-weight="bold" font-style="normal" text-anchor="middle" >ns</text>
<g fill="#000"><circle cx="378.10" cy="628.10" r="0.88"/><circle cx="383.26" cy="628.10" r="0.88"/><circle cx="388.42" cy="628.10" r="0.88"/><circle cx="393.58" cy="628.10" r="0.88"/><circle cx="398.74" cy="628.10" r="0.88"/><circle cx="403.90" cy="628.10" r="0.88"/><circle cx="409.06" cy="628.10" r="0.88"/><circle cx="414.22" cy="628.10" r="0.88"/><circle cx="419.38" cy="628.10" r="0.88"/><circle cx="424.53" cy="628.10" r="0.88"/><circle cx="429.69" cy="628.10" r="0.88"/><circle cx="434.85" cy="628.10" r="0.88"/><circle cx="440.01" cy="628.10" r="0.88"/><circle cx="445.17" cy="628.10" r="0.88"/><circle cx="450.33" cy="628.10" r="0.88"/><circle cx="455.49" cy="628.10" r="0.88"/><circle cx="460.65" cy="628.10" r="0.88"/><circle cx="465.81" cy="628.10" r="0.88"/><circle cx="470.97" cy="628.10" r="0.88"/><circle cx="476.13" cy="628.10" r="0.88"/><circle cx="481.29" cy="628.10" r="0.88"/><circle cx="486.45" cy="628.10" r="0.88"/><circle cx="491.61" cy="628.10" r="0.88"/><circle cx="496.77" cy="628.10" r="0.88"/><circle cx="501.93" cy="628.10" r="0.88"/><circle cx="507.08" cy="628.10" r="0.88"/><circle cx="512.24" cy="628.10" r="0.88"/><circle cx="517.40" cy="628.10" r="0.88"/><circle cx="522.56" cy="628.10" r="0.88"/><circle cx="527.72" cy="628.10" r="0.88"/><circle cx="532.88" cy="628.10" r="0.88"/><circle cx="538.04" cy="628.10" r="0.88"/><circle cx="543.20" cy="628.10" r="0.88"/><circle cx="548.36" cy="628.10" r="0.88"/><circle cx="553.52" cy="628.10" r="0.88"/><circle cx="558.68" cy="628.10" r="0.88"/><circle cx="563.84" cy="628.10" r="0.88"/><circle cx="569.00" cy="628.10" r="0.88"/><circle cx="574.16" cy="628.10" r="0.88"/><circle cx="579.32" cy="628.10" r="0.88"/><circle cx="584.48" cy="628.10" r="0.88"/><circle cx="589.63" cy="628.10" r="0.88"/><circle cx="594.79" cy="628.10" r="0.88"/><circle cx="599.95" cy="628.10" r="0.88"/><circle cx="605.11" cy="628.10" r="0.88"/><circle cx="610.27" cy="628.10" r="0.88"/><circle cx="615.43" cy="628.10" r="0.88"/><circle cx="620.59" cy="628.10" r="0.88"/><circle cx="625.75" cy="628.10" r="0.88"/><circle cx="630.91" cy="628.10" r="0.88"/><circle cx="636.07" cy="628.10" r="0.88"/><circle cx="641.23" cy="628.10" r="0.88"/><circle cx="646.39" cy="628.10" r="0.88"/><circle cx="651.55" cy="628.10" r="0.88"/><circle cx="656.71" cy="628.10" r="0.88"/></g>
<line x1="377.25" y1="639.40" x2="658.00" y2="639.40" stroke="#383838" stroke-width="1.5" />
<line x1="403.40" y1="639.40" x2="403.40" y2="642.40" stroke="#383838" stroke-width="1.5" />
<line x1="441.48" y1="639.40" x2="441.48" y2="642.40" stroke="#383838" stroke-width="1.5" />
<line x1="479.57" y1="639.40" x2="479.57" y2="642.40" stroke="#383838" stroke-width="1.5" />
<line x1="517.65" y1="639.40" x2="517.65" y2="642.40" stroke="#383838" stroke-width="1.5" />
<line x1="555.73" y1="639.40" x2="555.73" y2="642.40" stroke="#383838" stroke-width="1.5" />
<line x1="593.82" y1="639.40" x2="593.82" y2="642.40" stroke="#383838" stroke-width="1.5" />
<line x1="631.90" y1="639.40" x2="631.90" y2="642.40" stroke="#383838" stroke-width="1.5" />
<line x1="378.00" y1="524.30" x2="378.00" y2="588.50" stroke="#383838" stroke-width="1.5" />
<line x1="375.20" y1="588.50" x2="380.80" y2="588.50" stroke="#383838" stroke-width="1.5" />
<line x1="378.00" y1="596.40" x2="378.00" y2="639.40" stroke="#383838" stroke-width="1.5" />
<line x1="375.20" y1="596.40" x2="380.80" y2="596.40" stroke="#383838" stroke-width="1.5" />
<line x1="375.00" y1="530.20" x2="378.00" y2="530.20" stroke="#383838" stroke-width="1.5" />
<text x="373.80" y="534.85" font-size="10.7" font-weight="bold" font-style="normal" text-anchor="end" >120</text>
<line x1="375.00" y1="540.80" x2="378.00" y2="540.80" stroke="#383838" stroke-width="1.5" />
<text x="373.80" y="545.45" font-size="10.7" font-weight="bold" font-style="normal" text-anchor="end" >100</text>
<line x1="375.00" y1="551.40" x2="378.00" y2="551.40" stroke="#383838" stroke-width="1.5" />
<text x="373.80" y="556.05" font-size="10.7" font-weight="bold" font-style="normal" text-anchor="end" >80</text>
<line x1="375.00" y1="562.00" x2="378.00" y2="562.00" stroke="#383838" stroke-width="1.5" />
<text x="373.80" y="566.65" font-size="10.7" font-weight="bold" font-style="normal" text-anchor="end" >60</text>
<line x1="375.00" y1="572.60" x2="378.00" y2="572.60" stroke="#383838" stroke-width="1.5" />
<text x="373.80" y="577.25" font-size="10.7" font-weight="bold" font-style="normal" text-anchor="end" >40</text>
<line x1="375.00" y1="583.20" x2="378.00" y2="583.20" stroke="#383838" stroke-width="1.5" />
<text x="373.80" y="587.85" font-size="10.7" font-weight="bold" font-style="normal" text-anchor="end" >20</text>
<line x1="375.00" y1="596.40" x2="378.00" y2="596.40" stroke="#383838" stroke-width="1.5" />
<text x="373.80" y="601.05" font-size="10.7" font-weight="bold" font-style="normal" text-anchor="end" >10</text>
<line x1="375.00" y1="605.00" x2="378.00" y2="605.00" stroke="#383838" stroke-width="1.5" />
<text x="373.80" y="609.65" font-size="10.7" font-weight="bold" font-style="normal" text-anchor="end" >8</text>
<line x1="375.00" y1="613.60" x2="378.00" y2="613.60" stroke="#383838" stroke-width="1.5" />
<text x="373.80" y="618.25" font-size="10.7" font-weight="bold" font-style="normal" text-anchor="end" >6</text>
<line x1="375.00" y1="622.20" x2="378.00" y2="622.20" stroke="#383838" stroke-width="1.5" />
<text x="373.80" y="626.85" font-size="10.7" font-weight="bold" font-style="normal" text-anchor="end" >4</text>
<line x1="375.00" y1="630.80" x2="378.00" y2="630.80" stroke="#383838" stroke-width="1.5" />
<text x="373.80" y="635.45" font-size="10.7" font-weight="bold" font-style="normal" text-anchor="end" >2</text>
<line x1="375.00" y1="639.40" x2="378.00" y2="639.40" stroke="#383838" stroke-width="1.5" />
<text x="373.80" y="644.05" font-size="10.7" font-weight="bold" font-style="normal" text-anchor="end" >0</text>
<text transform="translate(403.40,655.30) scale(1,1.09)" font-size="11.8" font-weight="bold" font-style="normal" text-anchor="middle" >Ct</text>
<text transform="translate(441.48,655.30) scale(1,1.09)" font-size="11.8" font-weight="bold" font-style="italic" text-anchor="middle" >lj</text>
<text transform="translate(479.57,655.30) scale(1,1.09)" font-size="11.8" font-weight="bold" font-style="italic" text-anchor="middle" >lp</text>
<text transform="translate(517.65,655.30) scale(1,1.09)" font-size="11.8" font-weight="bold" font-style="italic" text-anchor="middle" >lf</text>
<text transform="translate(555.73,655.30) scale(1,1.09)" font-size="11.8" font-weight="bold" font-style="italic" text-anchor="middle" >la</text>
<text transform="translate(593.82,655.30) scale(1,1.09)" font-size="11.8" font-weight="bold" font-style="italic" text-anchor="middle" >lam</text>
<text transform="translate(631.90,655.30) scale(1,1.09)" font-size="11.8" font-weight="bold" font-style="italic" text-anchor="middle" >lc</text>
<text x="325.50" y="523.00" font-size="21" font-weight="bold" font-style="normal" text-anchor="start" >h</text>
<text transform="translate(499.50,523.00) scale(1,1.08)" font-size="13.6" font-weight="bold" font-style="normal" text-anchor="start" textLength="42.0" lengthAdjust="spacingAndGlyphs">CEC-D</text>
<text transform="translate(354.20,637.60) rotate(-90)" font-size="13" font-weight="normal" stroke="#000" stroke-width="0.4">Relative expression</text>
<text x="155.30" y="15.60" font-size="18.5" font-weight="bold" font-style="normal" text-anchor="start" >24 h PI</text>
<line x1="62.40" y1="21.70" x2="315.00" y2="21.70" stroke="#000" stroke-width="2.0" />
<text x="485.30" y="15.60" font-size="18.5" font-weight="bold" font-style="normal" text-anchor="start" >6 d PI</text>
<line x1="390.20" y1="21.90" x2="642.50" y2="21.90" stroke="#000" stroke-width="2.0" />
</svg></body></html>
